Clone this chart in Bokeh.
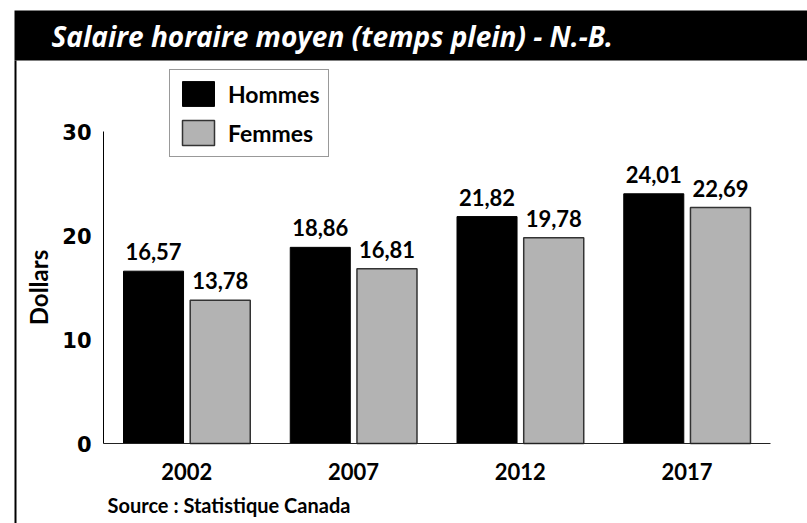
from bokeh.plotting import figure
from bokeh.models import (ColumnDataSource, Range1d, FixedTicker, Legend, LegendItem,
                          LabelSet, Label, BoxAnnotation, LinearAxis)
from bokeh.core.properties import value
from bokeh.embed import file_html
from bokeh.resources import INLINE

years = ["2002", "2007", "2012", "2017"]
hommes = [16.57, 18.86, 21.82, 24.01]
femmes = [13.78, 16.81, 19.78, 22.69]
y_ticks = [0, 10, 20, 30]
title_text = "Salaire horaire moyen (temps plein) - N.-B."
source_text = "Source : Statistique Canada"

def fr(v):
    return f"{v:.2f}".replace(".", ",")

centers = [i + 0.5 for i in range(len(years))]
src = ColumnDataSource(dict(
    xh=[c - 0.2 for c in centers], xf=[c + 0.2 for c in centers],
    hommes=hommes, femmes=femmes,
    hl=[fr(v) for v in hommes], fl=[fr(v) for v in femmes],
))

W, H = 807, 523
# frame fills the whole canvas; axes are drawn at fixed locations inside it
AX_L, AX_R = 103, 770         # canvas px of category span
AX_B, AX_T = 443, 131         # canvas px of y=0 and y=30
cw = (AX_R - AX_L) / len(years)
yk = (AX_B - AX_T) / (y_ticks[-1] - y_ticks[0])
xr = Range1d(-AX_L / cw, len(years) + (W - AX_R) / cw)
yr = Range1d(-(H - AX_B) / yk, y_ticks[-1] + AX_T / yk)

p = figure(x_range=xr, y_range=yr, width=W, height=H, output_backend="svg",
           toolbar_location=None, x_axis_location=None, y_axis_location=None,
           min_border=0)
p.outline_line_color = None
p.xgrid.grid_line_color = None
p.ygrid.grid_line_color = None
p.background_fill_color = "white"
p.border_fill_color = "white"

# decorations: title band and left frame line
band = BoxAnnotation(left=14, right=W, top=10, bottom=60,
                     left_units="canvas", right_units="canvas", top_units="canvas", bottom_units="canvas",
                     fill_color="black", fill_alpha=1, line_color=None)
p.add_layout(band)
edge = BoxAnnotation(left=14, right=16, top=60, bottom=H,
                     left_units="canvas", right_units="canvas", top_units="canvas", bottom_units="canvas",
                     fill_color="black", fill_alpha=1, line_color=None)
p.add_layout(edge)

t = Label(x=51, y=35, x_units="canvas", y_units="canvas", text=title_text,
          text_font="Open Sans", text_font_style="bold italic", text_font_size="28px",
          text_color="white", text_baseline="middle", text_align="left")
p.add_layout(t)
s = Label(x=107, y=504, x_units="canvas", y_units="canvas", text=source_text,
          text_font="Lato", text_font_style="bold", text_font_size="20px",
          text_color="black", text_baseline="middle", text_align="left")
p.add_layout(s)

rh = p.vbar(x="xh", top="hommes", width=0.36, source=src,
            fill_color="black", line_color="black", line_width=1)
rf = p.vbar(x="xf", top="femmes", width=0.36, source=src,
            fill_color="#b3b3b3", line_color="#333333", line_width=1.5)

for xc, col, lab in (("xh", "hommes", "hl"), ("xf", "femmes", "fl")):
    ls = LabelSet(x=xc, y=col, text=lab, source=src,
                  y_offset=11, text_align="center", text_baseline="alphabetic",
                  text_font=value("Lato"), text_font_style=value("bold"),
                  text_font_size=value("22px"), text_color="black")
    p.add_layout(ls)

legend = Legend(items=[LegendItem(label="Hommes", renderers=[rh]),
                       LegendItem(label="Femmes", renderers=[rf])],
                location=(169, H - 157), orientation="vertical",
                glyph_width=40, glyph_height=31, label_standoff=10, spacing=8,
                padding=8, margin=0, border_line_color="#333333", border_line_width=1,
                label_text_font="Lato", label_text_font_style="bold",
                label_text_font_size="23px", label_text_color="black",
                label_text_baseline="middle", background_fill_alpha=1)
p.add_layout(legend, "center")

yaxis = LinearAxis(fixed_location=0, bounds=(y_ticks[0], y_ticks[-1]),
                   ticker=FixedTicker(ticks=y_ticks))
yaxis.major_tick_line_color = None
yaxis.major_tick_out = 0
yaxis.major_tick_in = 0
yaxis.minor_tick_line_color = None
yaxis.minor_tick_out = 0
yaxis.major_label_standoff = 12
yaxis.major_label_text_font = "DejaVu Sans"
yaxis.major_label_text_font_style = "bold"
yaxis.major_label_text_font_size = "21px"
yaxis.major_label_text_color = "black"
yaxis.axis_label = "Dollars"
yaxis.axis_label_text_font = "Lato"
yaxis.axis_label_text_font_style = "bold"
yaxis.axis_label_text_font_size = "24px"
yaxis.axis_label_text_color = "black"
yaxis.axis_label_standoff = 6
yaxis.axis_line_color = "black"
p.add_layout(yaxis, "left")

xaxis = LinearAxis(fixed_location=0, bounds=(0, len(years)),
                   ticker=FixedTicker(ticks=centers),
                   major_label_overrides={c: y for c, y in zip(centers, years)})
xaxis.major_tick_line_color = None
xaxis.major_tick_out = 0
xaxis.major_tick_in = 0
xaxis.minor_tick_line_color = None
xaxis.minor_tick_out = 0
xaxis.major_label_standoff = 19
xaxis.major_label_text_font = "Lato"
xaxis.major_label_text_font_style = "bold"
xaxis.major_label_text_font_size = "22px"
xaxis.major_label_text_color = "black"
xaxis.axis_line_color = "#222222"
p.add_layout(xaxis, "below")

open("out.html", "w").write(file_html(p, INLINE))
